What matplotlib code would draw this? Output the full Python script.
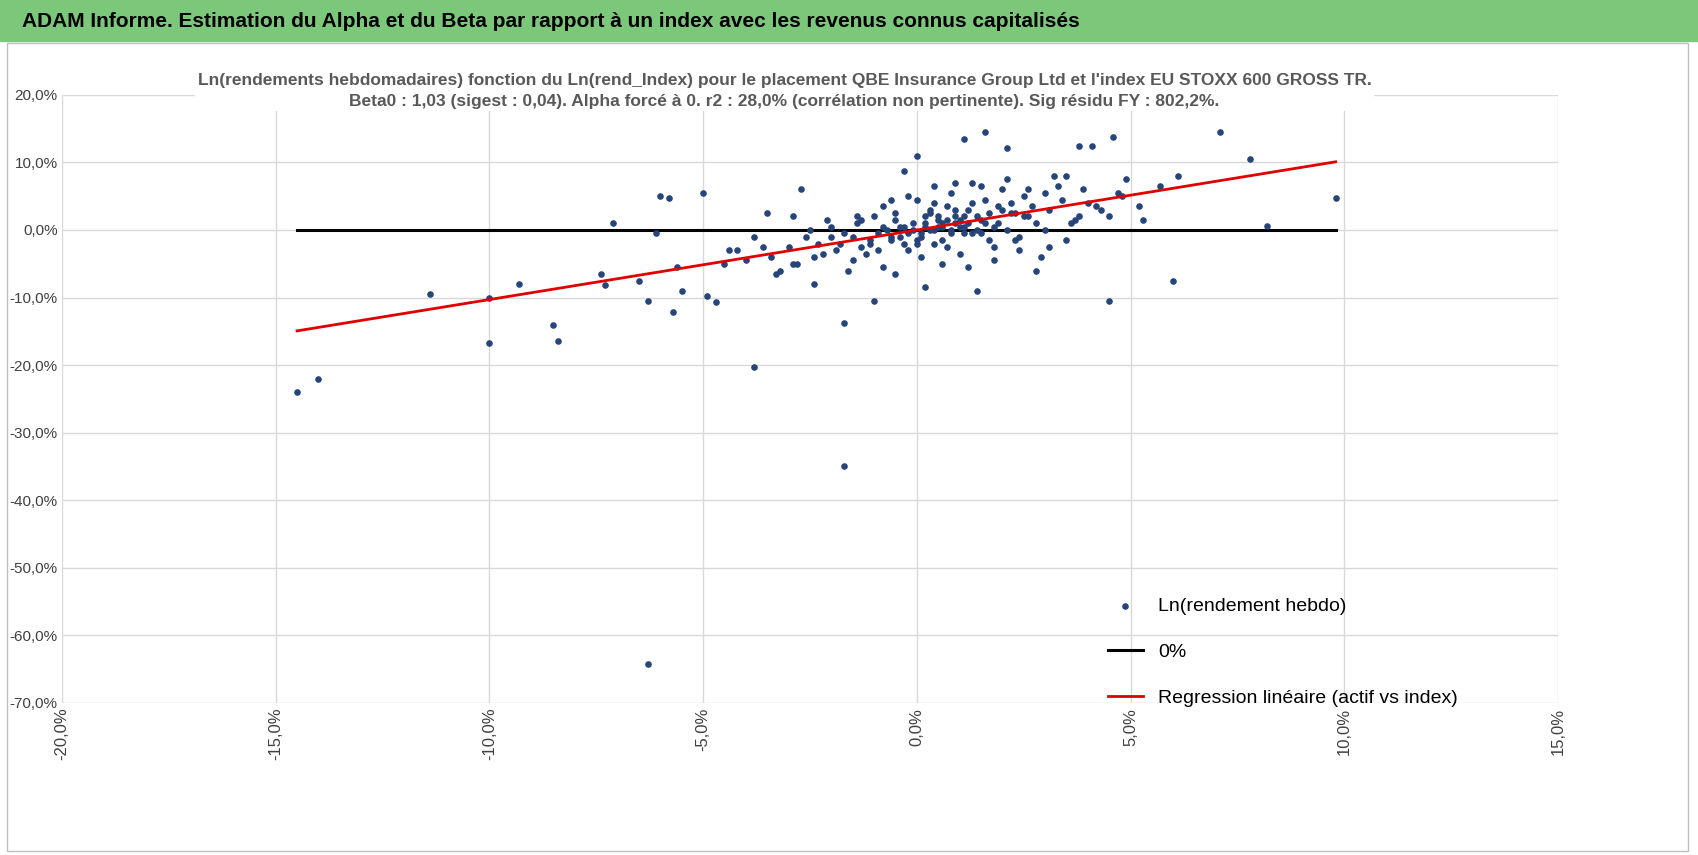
import matplotlib.pyplot as plt
from matplotlib.patches import Rectangle
import numpy as np

plt.rcParams['font.family'] = ['Liberation Sans', 'DejaVu Sans']

# index returns (%) and asset returns (%)
x_out = [-14.5, -14.0, -11.4, -10.0, -10.0, -9.3, -8.5, -8.4, -7.1, -7.4, -7.3, -6.5, -6.3, -6.3,
         -6.0, -5.8, -6.1, -5.7, -5.5, -5.0, -4.9, -4.7, -3.8, -1.7, -1.7, -3.5, -2.7, -1.0,
         -0.3, 0.0, 1.1, 1.6, 2.1, 7.1, 7.8, 4.6, 3.8, 4.1, 9.8, 8.2, 6.0, 4.5, 6.1, 5.7,
         2.8, 1.4, 0.2, -4.5, -3.8, -5.6, -4.2, -3.3, -2.9, -2.4, 5.2, 4.9, 3.5, 3.1]
y_out = [-24.0, -22.0, -9.5, -10.0, -16.7, -8.0, -14.0, -16.5, 1.0, -6.5, -8.2, -7.5, -10.5, -64.2,
         5.0, 4.8, -0.5, -12.2, -9.0, 5.5, -9.8, -10.7, -20.3, -35.0, -13.8, 2.5, 6.0, -10.5,
         8.8, 11.0, 13.5, 14.5, 12.2, 14.5, 10.5, 13.8, 12.5, 12.5, 4.8, 0.6, -7.5, -10.5, 8.0, 6.5,
         -6.0, -9.0, -8.5, -5.0, -1.0, -5.5, -3.0, -6.5, 2.0, -8.0, 3.5, 7.5, 8.0, -2.5]
x_core = [-3.0, -2.6, -2.2, -2.0, -1.8, -1.5, -1.3, -1.1, -0.9, -0.7, -0.5, -0.3, -0.1, 0.1, 0.3,
          0.5, 0.7, 0.9, 1.1, 1.3, 1.5, 1.7, 1.9, 2.1, 2.3, 2.5, 2.8, 3.1, 3.4, 3.8,
          -2.8, -2.4, -2.1, -1.7, -1.4, -1.2, -0.8, -0.6, -0.4, -0.2, 0.0, 0.2, 0.4, 0.6, 0.8,
          1.0, 1.2, 1.4, 1.6, 1.8, 2.0, 2.2, 2.4, 2.7, 3.0, 3.3, 3.6, 4.0, 4.3, 4.7,
          -2.5, -1.9, -1.6, -1.0, -0.8, -0.5, -0.2, 0.1, 0.4, 0.6, 0.9, 1.2, 1.5, 1.8, 2.1,
          2.4, 2.6, 2.9, 3.2, 3.5, -3.4, -2.3, -1.4, -0.6, 0.2, 0.7, 1.0, 1.3, 1.7, 2.2,
          0.0, 0.3, 0.5, 0.8, 1.1, -0.4, -0.9, -1.3, 1.4, 1.9, 0.6, 0.9, -0.1, 2.5, 3.7,
          -0.3, 0.1, 0.4, 0.7, 1.0, 1.3, 1.6, -0.6, -1.1, 0.2, 0.5, 0.8, 1.2, 1.5, -0.2,
          0.0, 0.3, 0.6, 0.9, 1.1, -0.5, -0.8, 1.8, 2.0, 2.3, -1.5, -2.0, 2.6, 3.0, 0.4,
          -4.0, -3.6, -3.2, -2.9, -4.4, 4.2, 4.5, 3.9, 4.8, 5.3]
y_core = [-2.5, -1.0, -3.5, 0.5, -2.0, -4.5, 1.5, -1.5, -3.0, 0.0, 2.5, -2.0, 1.0, -1.0, 3.0,
          0.5, -2.5, 2.0, -0.5, 4.0, 1.5, -1.5, 3.5, 0.0, 2.5, 5.0, 1.0, 3.0, 4.5, 2.0,
          -5.0, -4.0, 1.5, -0.5, 2.0, -3.5, 3.5, -1.0, 0.5, -3.0, 4.5, 2.0, -2.0, 1.0, 5.5,
          -3.5, 3.0, 0.0, 4.5, -2.5, 6.0, 2.5, -1.0, 3.5, 0.0, 6.5, 1.0, 4.0, 3.0, 5.5,
          0.0, -3.0, -6.0, 2.0, -5.5, -6.5, 5.0, -4.0, 6.5, -5.0, 7.0, -5.5, 6.5, -4.5, 7.5,
          -3.0, 6.0, -4.0, 8.0, -1.5, -4.0, -2.0, 1.0, 4.5, 0.5, 3.5, 1.5, 7.0, 2.5, 4.0,
          -1.5, 0.0, 1.5, -0.5, 0.5, -1.0, -0.5, -2.5, 2.0, 1.0, 0.5, 1.0, 0.0, 2.0, 1.5,
          0.5, -0.5, 0.0, 1.5, 0.5, -0.5, 1.0, -1.5, -2.0, 1.0, 2.0, 0.0, 1.0, -0.5, -0.5,
          -2.0, 2.5, -1.5, 3.0, 2.0, 1.5, 0.5, 0.5, 3.0, -1.5, -1.0, -1.0, 2.0, 5.5, 4.0,
          -4.5, -2.5, -6.0, -5.0, -3.0, 3.5, 2.0, 6.0, 5.0, 1.5]
x_pts = x_out + x_core
y_pts = y_out + y_core

x_line = [-14.5, 9.8]
beta = 1.03

fig = plt.figure(figsize=(16.98, 8.55), dpi=100)
fig.patches.append(Rectangle((0, 0.952), 1, 0.048, transform=fig.transFigure, color='#7BC87B'))
fig.patches.append(Rectangle((0.004, 0.005), 0.99, 0.945, transform=fig.transFigure,
                             fill=False, edgecolor='#BFBFBF', lw=1))
fig.text(0.013, 0.975, "ADAM Informe. Estimation du Alpha et du Beta par rapport à un index avec les revenus connus capitalisés",
         fontsize=15, fontweight='bold', va='center', ha='left')

ax = fig.add_axes([0.0365, 0.178, 0.881, 0.711])
ax.scatter(x_pts, y_pts, s=14, color='#264478', zorder=3, label='Ln(rendement hebdo)')
ax.plot(x_line, [0, 0], color='black', lw=2.2, zorder=2, label='0%')
ax.plot(x_line, [beta * v for v in x_line], color='#E00000', lw=2, zorder=4,
        label='Regression linéaire (actif vs index)')

ax.set_xlim(-20, 15)
ax.set_ylim(-70, 20)
ax.set_xticks(np.arange(-20, 16, 5))
ax.set_yticks(np.arange(-70, 21, 10))
ax.set_xticklabels([f"{v:.1f}%".replace('.', ',') for v in np.arange(-20, 16, 5)], rotation=90)
ax.set_yticklabels([f"{v:.1f}%".replace('.', ',') for v in np.arange(-70, 21, 10)])
ax.tick_params(labelsize=12, length=0, colors='#404040')
ax.tick_params(axis='y', labelsize=11, pad=3)
ax.grid(color='#D9D9D9', lw=1)
ax.set_axisbelow(True)
for s in ax.spines.values():
    s.set_visible(False)

fig.text(0.462, 0.894, "Ln(rendements hebdomadaires) fonction du Ln(rend_Index) pour le placement QBE Insurance Group Ltd et l'index EU STOXX 600 GROSS TR.\n"
         "Beta0 : 1,03 (sigest : 0,04). Alpha forcé à 0. r2 : 28,0% (corrélation non pertinente). Sig résidu FY : 802,2%.",
         ha='center', va='center', fontsize=12.5, fontweight='bold', color='#595959',
         linespacing=1.5, bbox=dict(facecolor='white', edgecolor='none', pad=2))

ax.legend(loc='lower right', frameon=False, fontsize=14, handlelength=1.8,
          labelspacing=1.45, bbox_to_anchor=(0.945, -0.035))

fig.savefig('out.png', dpi=100)
